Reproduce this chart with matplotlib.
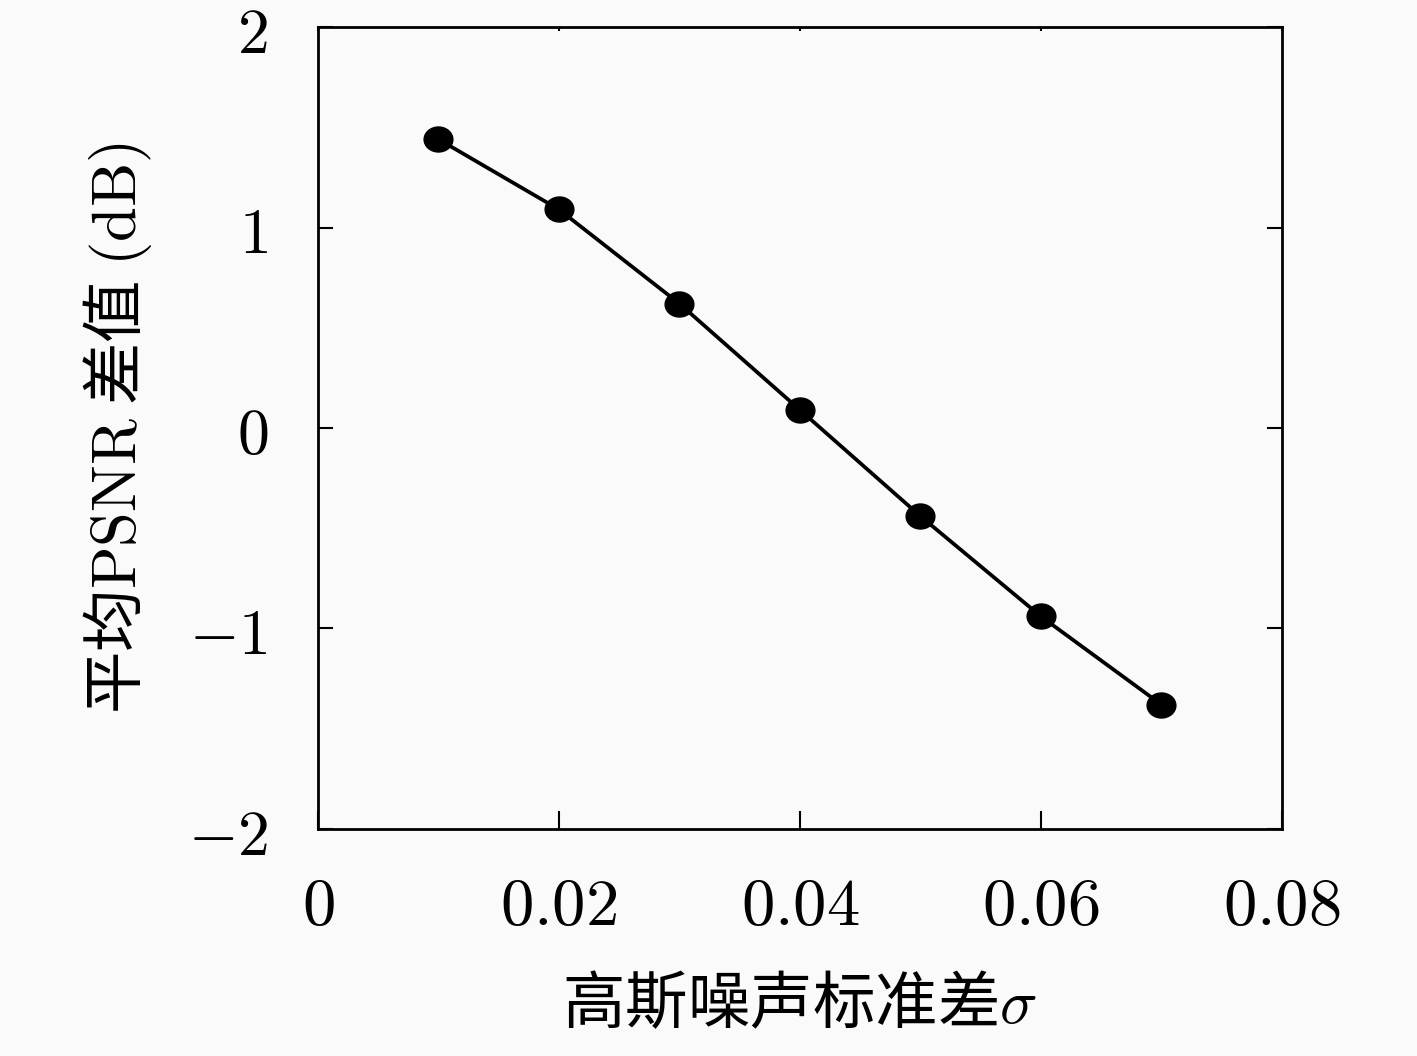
import numpy as np
import matplotlib
matplotlib.use('Agg')
import matplotlib.pyplot as plt
from matplotlib.markers import MarkerStyle
from matplotlib.transforms import Affine2D

sigma = [0.01, 0.02, 0.03, 0.04, 0.05, 0.06, 0.07]           # 高斯噪声标准差
psnr_diff = [1.44, 1.09, 0.62, 0.09, -0.44, -0.94, -1.38]    # 平均PSNR差值 (dB)

xticks = [0, 0.02, 0.04, 0.06, 0.08]
xticklabels = ['0', '0.02', '0.04', '0.06', '0.08']
yticks = [-2, -1, 0, 1, 2]
yticklabels = ['-2', '-1', '0', '1', '2']

plt.rcParams['mathtext.fontset'] = 'cm'
plt.rcParams['font.family'] = ['Noto Sans CJK SC', 'DejaVu Sans']

fig = plt.figure(figsize=(14.17, 10.56), dpi=100, facecolor='#fafafa')
ax = fig.add_axes([0.2244, 0.2150, 0.9047 - 0.2244, 0.9744 - 0.2150])
ax.set_facecolor('#fafafa')

mk = MarkerStyle('o', transform=Affine2D().scale(1.15, 1.0))
ax.plot(sigma, psnr_diff, color='black', lw=2.7, marker=mk, markersize=18,
        markerfacecolor='black', markeredgecolor='black')

ax.set_xlim(0, 0.08)
ax.set_ylim(-2, 2)
ax.set_xticks(xticks)
ax.set_xticklabels(['$%s$' % s for s in xticklabels], fontsize=48)
ax.set_yticks(yticks)
ax.set_yticklabels(['$%s$' % s for s in yticklabels], fontsize=46)

ax.tick_params(axis='x', direction='in', length=13, width=1.5, pad=31, top=True)
ax.tick_params(axis='y', direction='in', length=11, width=1.5, pad=36, right=True)
for tick in ax.xaxis.get_major_ticks():
    tick.tick2line.set_markersize(3)
for s in ax.spines.values():
    s.set_linewidth(2.0)

ax.set_xlabel('高斯噪声标准差$\\sigma$', fontsize=45, labelpad=24)
ax.set_ylabel('平均$\\mathrm{PSNR}$ 差值 $(\\mathrm{dB})$', fontsize=45, labelpad=24)

fig.savefig('out.png', dpi=100, facecolor=fig.get_facecolor())
